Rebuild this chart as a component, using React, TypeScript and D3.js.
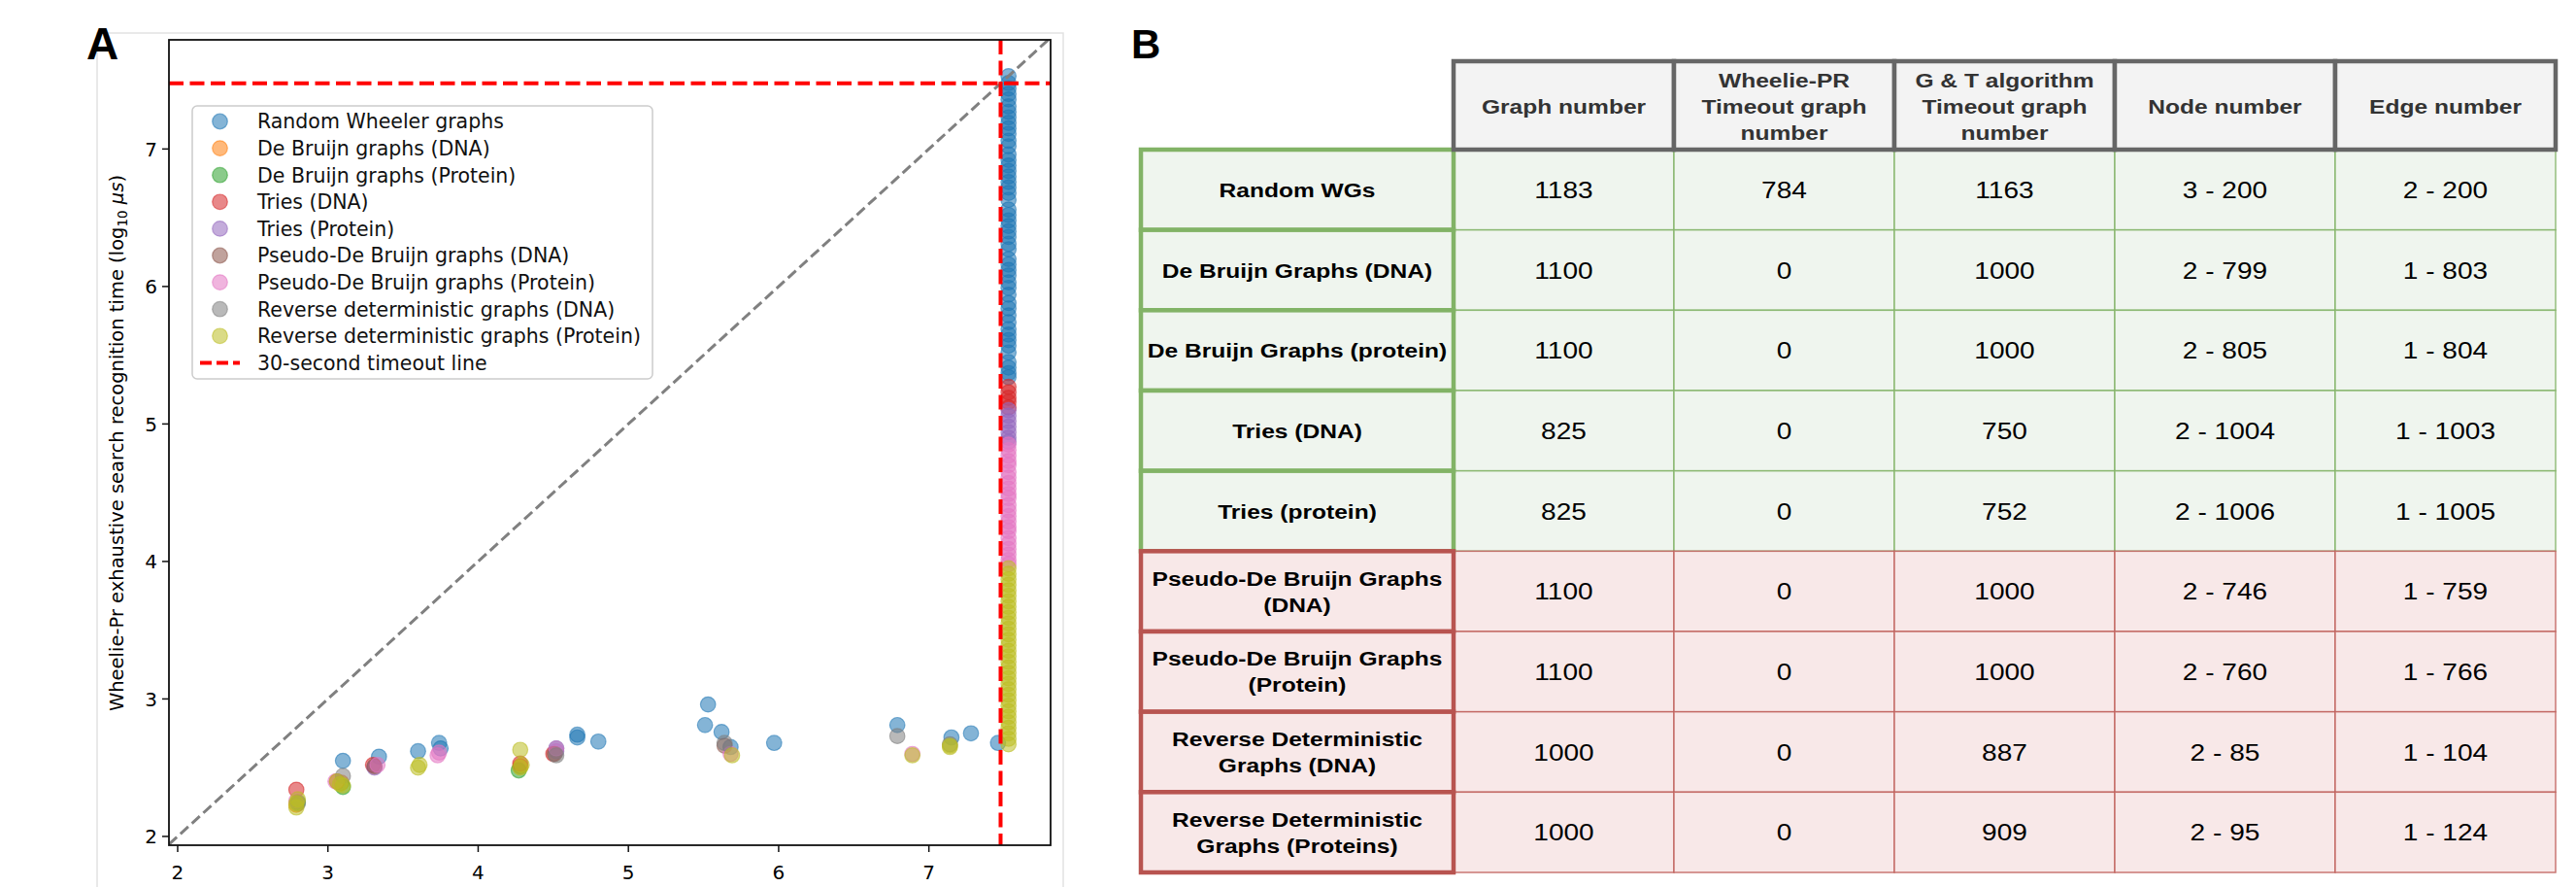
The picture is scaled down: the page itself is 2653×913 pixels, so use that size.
import React, { useEffect, useRef } from "react";
import * as d3 from "d3";

// ---------- panel A: scatter ----------
const seriesNames = [
  "Random Wheeler graphs",
  "De Bruijn graphs (DNA)",
  "De Bruijn graphs (Protein)",
  "Tries (DNA)",
  "Tries (Protein)",
  "Pseudo-De Bruijn graphs (DNA)",
  "Pseudo-De Bruijn graphs (Protein)",
  "Reverse deterministic graphs (DNA)",
  "Reverse deterministic graphs (Protein)",
];
const seriesColors = [
  "#1f77b4", "#ff7f0e", "#2ca02c", "#d62728", "#9467bd",
  "#8c564b", "#e377c2", "#7f7f7f", "#bcbd22",
];

// [G&T time, Wheelie-Pr time] in log10 µs
const randomWG = [
  [3.10, 2.55], [3.34, 2.58], [3.60, 2.62], [3.74, 2.68], [3.75, 2.64],
  [4.52, 2.64], [4.66, 2.74], [4.66, 2.72], [4.80, 2.69], [5.53, 2.96],
  [5.51, 2.81], [5.62, 2.76], [5.68, 2.65], [5.97, 2.68], [6.79, 2.81],
  [7.15, 2.72], [7.28, 2.75], [7.46, 2.68],
];
const deBruijnDNA = [[2.79, 2.23], [3.09, 2.39], [4.28, 2.51]];
const deBruijnProtein = [[2.80, 2.25], [3.10, 2.36], [4.27, 2.48]];
const triesDNA = [[2.79, 2.34], [3.06, 2.40], [3.30, 2.52], [4.28, 2.53], [4.50, 2.60]];
const triesProtein = [[3.31, 2.50], [4.52, 2.62]];
const pseudoDNA = [[3.31, 2.51], [4.51, 2.60], [5.64, 2.66]];
const pseudoProtein = [
  [2.79, 2.26], [3.05, 2.40], [3.33, 2.52], [3.74, 2.61], [3.73, 2.59],
  [4.52, 2.64], [5.68, 2.60], [6.89, 2.60],
];
const revDetDNA = [
  [2.80, 2.24], [3.10, 2.44], [4.52, 2.59], [5.64, 2.68], [6.79, 2.73], [7.14, 2.67],
];
const revDetProtein = [
  [2.79, 2.21], [2.79, 2.24], [2.80, 2.27], [3.08, 2.38], [3.10, 2.37], [3.06, 2.40],
  [3.60, 2.50], [3.61, 2.52], [4.28, 2.63], [4.28, 2.50], [4.29, 2.52],
  [5.69, 2.59], [6.89, 2.59], [7.14, 2.65], [7.14, 2.66],
];

// G&T timeouts, stacked at the right edge (Wheelie-Pr time only)
const TIMEOUT_X = 7.53;
const randomWGTimeout = [
  7.53, 7.48, 7.44, 7.40, 7.36, 7.31, 7.27, 7.23, 7.19, 7.15, 7.11, 7.06, 7.02,
  6.96, 6.92, 6.88, 6.84, 6.80, 6.76, 6.72, 6.68, 6.63, 6.56, 6.52, 6.48, 6.44,
  6.40, 6.36, 6.31, 6.27, 6.20, 6.16, 6.12, 6.08, 6.03, 5.99, 5.94, 5.88, 5.84,
  5.79, 5.74, 5.69, 5.65, 5.61, 5.57, 5.52, 5.45, 5.41, 5.37, 5.34,
];
const triesDNATimeout = [5.27, 5.23, 5.19, 5.16, 5.12];
const triesProteinTimeout = [5.10, 5.06, 5.02, 4.98, 4.94, 4.90, 4.87];
const pseudoProteinTimeout = [
  4.85, 4.81, 4.77, 4.73, 4.70, 4.65, 4.61, 4.57, 4.53, 4.49, 4.46, 4.41,
  4.37, 4.33, 4.29, 4.25, 4.22, 4.17, 4.13, 4.09, 4.05, 4.01, 3.98,
];
const revDetProteinTimeout = [
  3.95, 3.91, 3.87, 3.83, 3.79, 3.75, 3.71, 3.67, 3.63, 3.59, 3.55, 3.51,
  3.47, 3.43, 3.39, 3.35, 3.31, 3.27, 3.23, 3.19, 3.15, 3.11, 3.07, 3.03,
  2.99, 2.95, 2.91, 2.87, 2.83, 2.79, 2.75, 2.71, 2.67,
];

const seriesPoints = [randomWG, deBruijnDNA, deBruijnProtein, triesDNA, triesProtein,
  pseudoDNA, pseudoProtein, revDetDNA, revDetProtein];
const seriesTimeouts = [randomWGTimeout, [], [], triesDNATimeout, triesProteinTimeout,
  [], pseudoProteinTimeout, [], revDetProteinTimeout];

const xTicks = [2, 3, 4, 5, 6, 7];
const yTicks = [2, 3, 4, 5, 6, 7];
const TIMEOUT_LOG = Math.log10(30e6);

// ---------- panel B: table ----------
const tableHeaders = [
  ["Graph number"],
  ["Wheelie-PR", "Timeout graph", "number"],
  ["G & T algorithm", "Timeout graph", "number"],
  ["Node number"],
  ["Edge number"],
];
const graphTypes = [
  ["Random WGs"],
  ["De Bruijn Graphs (DNA)"],
  ["De Bruijn Graphs (protein)"],
  ["Tries (DNA)"],
  ["Tries (protein)"],
  ["Pseudo-De Bruijn Graphs", "(DNA)"],
  ["Pseudo-De Bruijn Graphs", "(Protein)"],
  ["Reverse Deterministic", "Graphs (DNA)"],
  ["Reverse Deterministic", "Graphs (Proteins)"],
];
const isWheeler = [true, true, true, true, true, false, false, false, false];
const graphNumber = [1183, 1100, 1100, 825, 825, 1100, 1100, 1000, 1000];
const wheelieTimeout = [784, 0, 0, 0, 0, 0, 0, 0, 0];
const gtTimeout = [1163, 1000, 1000, 750, 752, 1000, 1000, 887, 909];
const nodeRange = ["3 - 200", "2 - 799", "2 - 805", "2 - 1004", "2 - 1006", "2 - 746", "2 - 760", "2 - 85", "2 - 95"];
const edgeRange = ["2 - 200", "1 - 803", "1 - 804", "1 - 1003", "1 - 1005", "1 - 759", "1 - 766", "1 - 104", "1 - 124"];

const PLOT_FONT = "DejaVu Sans, sans-serif";
const TABLE_FONT = "Liberation Sans, Arial, sans-serif";
const DOT_R = 7.8;

function drawScatter(g) {
  const x = d3.scaleLinear().domain([1.942, 7.81]).range([174, 1082]);
  const y = d3.scaleLinear().domain([1.936, 7.794]).range([870, 41]);
  const [x0, x1] = x.range();
  const [y0, y1] = y.range();

  // panel frame
  g.append("rect").attr("x", 100).attr("y", 34).attr("width", 995).attr("height", 900)
    .attr("fill", "#fff").attr("stroke", "#e2e2e2").attr("stroke-width", 1.5);

  g.append("text").attr("x", 89).attr("y", 61).attr("font-family", TABLE_FONT)
    .attr("font-weight", "bold").attr("font-size", 46).text("A");

  g.append("clipPath").attr("id", "plot-clip").append("rect")
    .attr("x", x0).attr("y", y1).attr("width", x1 - x0).attr("height", y0 - y1);

  const plot = g.append("g").attr("clip-path", "url(#plot-clip)");

  seriesNames.forEach((name, i) => {
    const pts = seriesPoints[i].concat(seriesTimeouts[i].map((v) => [TIMEOUT_X, v]));
    plot.append("g").selectAll("circle").data(pts).enter().append("circle")
      .attr("cx", (d) => x(d[0])).attr("cy", (d) => y(d[1])).attr("r", DOT_R)
      .attr("fill", seriesColors[i]).attr("fill-opacity", 0.55)
      .attr("stroke", seriesColors[i]).attr("stroke-opacity", 0.55).attr("stroke-width", 1.2);
  });

  // y = x reference
  plot.append("line")
    .attr("x1", x(1.942)).attr("y1", y(1.942)).attr("x2", x(7.81)).attr("y2", y(7.81))
    .attr("stroke", "#808080").attr("stroke-width", 3).attr("stroke-dasharray", "11,5");

  // 30 s timeout lines
  plot.append("line").attr("x1", x0).attr("x2", x1).attr("y1", y(TIMEOUT_LOG)).attr("y2", y(TIMEOUT_LOG))
    .attr("stroke", "#ff0000").attr("stroke-width", 4).attr("stroke-dasharray", "15,6.5");
  plot.append("line").attr("x1", x(TIMEOUT_LOG)).attr("x2", x(TIMEOUT_LOG)).attr("y1", y1).attr("y2", y0)
    .attr("stroke", "#ff0000").attr("stroke-width", 4).attr("stroke-dasharray", "15,6.5");

  // spines
  g.append("rect").attr("x", x0).attr("y", y1).attr("width", x1 - x0).attr("height", y0 - y1)
    .attr("fill", "none").attr("stroke", "#111").attr("stroke-width", 1.8);

  // ticks
  const xt = g.append("g");
  xTicks.forEach((t) => {
    xt.append("line").attr("x1", x(t)).attr("x2", x(t)).attr("y1", y0).attr("y2", y0 + 7)
      .attr("stroke", "#111").attr("stroke-width", 1.5);
    xt.append("text").attr("x", x(t)).attr("y", y0 + 35).attr("text-anchor", "middle")
      .attr("font-family", PLOT_FONT).attr("font-size", 20).text(t);
  });
  const yt = g.append("g");
  yTicks.forEach((t) => {
    yt.append("line").attr("x1", x0 - 7).attr("x2", x0).attr("y1", y(t)).attr("y2", y(t))
      .attr("stroke", "#111").attr("stroke-width", 1.5);
    yt.append("text").attr("x", x0 - 12).attr("y", y(t) + 7.5).attr("text-anchor", "end")
      .attr("font-family", PLOT_FONT).attr("font-size", 20).text(t);
  });

  // y label
  const yl = g.append("text").attr("transform", "translate(127,456) rotate(-90)")
    .attr("text-anchor", "middle").attr("font-family", PLOT_FONT).attr("font-size", 19.5);
  yl.append("tspan").text("Wheelie-Pr exhaustive search recognition time (log");
  yl.append("tspan").attr("font-size", 13.5).attr("dy", 4).text("10");
  yl.append("tspan").attr("dy", -4).text(" ");
  yl.append("tspan").attr("font-style", "italic").text("μs");
  yl.append("tspan").text(")");

  // legend
  const lg = g.append("g");
  lg.append("rect").attr("x", 198).attr("y", 109).attr("width", 474).attr("height", 281).attr("rx", 5)
    .attr("fill", "#fff").attr("fill-opacity", 0.8).attr("stroke", "#cccccc").attr("stroke-width", 1.5);
  const rowY = (i) => 125 + i * 27.6;
  seriesNames.forEach((name, i) => {
    lg.append("circle").attr("cx", 226.5).attr("cy", rowY(i)).attr("r", DOT_R)
      .attr("fill", seriesColors[i]).attr("fill-opacity", 0.55)
      .attr("stroke", seriesColors[i]).attr("stroke-opacity", 0.55).attr("stroke-width", 1.2);
    lg.append("text").attr("x", 265).attr("y", rowY(i) + 7.3).attr("font-family", PLOT_FONT)
      .attr("font-size", 20.5).attr("fill", "#111").text(name);
  });
  lg.append("line").attr("x1", 206).attr("x2", 247).attr("y1", rowY(9)).attr("y2", rowY(9))
    .attr("stroke", "#ff0000").attr("stroke-width", 4).attr("stroke-dasharray", "12,5");
  lg.append("text").attr("x", 265).attr("y", rowY(9) + 7.3).attr("font-family", PLOT_FONT)
    .attr("font-size", 20.5).attr("fill", "#111").text("30-second timeout line");
}

function stretchedText(g, cx, cy, lines, size, weight, color) {
  const t = g.append("text").attr("transform", `translate(${cx},${cy}) scale(1.17,1)`)
    .attr("text-anchor", "middle").attr("font-family", TABLE_FONT).attr("font-size", size)
    .attr("font-weight", weight).attr("fill", color);
  const gap = 27;
  lines.forEach((ln, i) => {
    t.append("tspan").attr("x", 0).attr("y", (i - (lines.length - 1) / 2) * gap + size * 0.36).text(ln);
  });
}

function drawTable(g) {
  g.append("text").attr("x", 1165).attr("y", 60).attr("font-family", TABLE_FONT)
    .attr("font-weight", "bold").attr("font-size", 42).text("B");

  const col = d3.scaleBand().domain(d3.range(tableHeaders.length)).range([1497, 2632]);
  const row = d3.scaleBand().domain(d3.range(graphTypes.length)).range([154, 898]);
  const labelX0 = 1175;
  const headTop = 63;

  const cols = [graphNumber, wheelieTimeout, gtTimeout, nodeRange, edgeRange];

  // data cells
  graphTypes.forEach((_, r) => {
    const stroke = isWheeler[r] ? "#82b366" : "#c0605c";
    const fill = isWheeler[r] ? "#eff5ee" : "#f8e8e8";
    cols.forEach((vals, c) => {
      g.append("rect").attr("x", col(c)).attr("y", row(r)).attr("width", col.bandwidth())
        .attr("height", row.bandwidth()).attr("fill", fill).attr("stroke", stroke)
        .attr("stroke-opacity", 0.85).attr("stroke-width", 1.5);
    });
  });
  graphTypes.forEach((_, r) => {
    cols.forEach((vals, c) => {
      stretchedText(g, col(c) + col.bandwidth() / 2, row(r) + row.bandwidth() / 2,
        [String(vals[r])], 24, "normal", "#000");
    });
  });

  // row label boxes
  graphTypes.forEach((lines, r) => {
    g.append("rect").attr("x", labelX0).attr("y", row(r)).attr("width", 1497 - labelX0)
      .attr("height", row.bandwidth())
      .attr("fill", isWheeler[r] ? "#eff5ee" : "#f8e8e8")
      .attr("stroke", isWheeler[r] ? "#82b366" : "#b85450").attr("stroke-width", 4.5);
    stretchedText(g, (labelX0 + 1497) / 2, row(r) + row.bandwidth() / 2, lines, 21, "bold", "#000");
  });

  // header
  tableHeaders.forEach((lines, c) => {
    g.append("rect").attr("x", col(c)).attr("y", headTop).attr("width", col.bandwidth())
      .attr("height", 154 - headTop).attr("fill", "#f3f3f3").attr("stroke", "#666666")
      .attr("stroke-width", 4.5);
    stretchedText(g, col(c) + col.bandwidth() / 2, (headTop + 154) / 2 + 1, lines, 21, "bold", "#333");
  });
}

export default function App() {
  const ref = useRef(null);

  useEffect(() => {
    const svg = d3.select(ref.current);
    svg.selectAll("*").remove();
    drawScatter(svg.append("g"));
    drawTable(svg.append("g"));
  }, []);

  return (
    <svg
      ref={ref}
      width={2653}
      height={913}
      style={{ position: "absolute", left: 0, top: 0, display: "block", background: "#fff" }}
    />
  );
}
